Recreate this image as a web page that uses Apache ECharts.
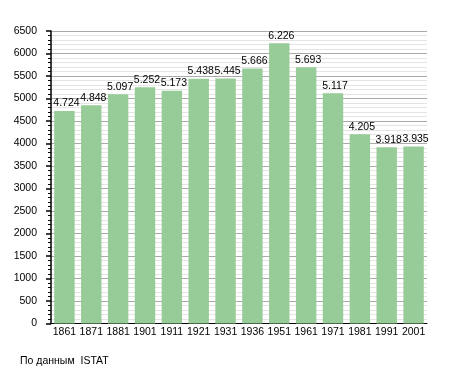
<!DOCTYPE html>
<html><head><meta charset="utf-8">
<script src="https://cdn.jsdelivr.net/npm/echarts@6/dist/echarts.min.js"></script>
<style>html,body{margin:0;padding:0;background:#fff}#c{width:455px;height:373px}</style>
</head><body><div id="c"></div>
<script>
var years = ['1861','1871','1881','1901','1911','1921','1931','1936','1951','1961','1971','1981','1991','2001'];
var population = [4724,4848,5097,5252,5173,5438,5445,5666,6226,5693,5117,4205,3918,3935];
var yTicks = {min:0, max:6500, interval:500};
var footnote = 'По данным  ISTAT';

var chart = echarts.init(document.getElementById('c'), null, {renderer:'canvas'});
var font = 'Liberation Sans, Arial, sans-serif';
var fs = 10.5;
chart.setOption({
  animation:false,
  grid:{left:51, right:28, top:31, bottom:49.5},
  graphic:[{type:'text', left:20, top:356, style:{text:footnote, font:fs+'px '+font, fill:'#000'}}],
  xAxis:{type:'category', data:years,
    axisLine:{lineStyle:{color:'#000', width:1}},
    axisTick:{show:false},
    axisLabel:{color:'#000', fontFamily:font, fontSize:fs, margin:3, interval:0}
  },
  yAxis:{type:'value', min:yTicks.min, max:yTicks.max, interval:yTicks.interval,
    axisLine:{show:true, lineStyle:{color:'#000', width:1.5}},
    axisTick:{show:true, length:5, lineStyle:{color:'#000', width:1.5}},
    minorTick:{show:true, splitNumber:5, length:3, lineStyle:{color:'#000', width:1}},
    splitLine:{show:true, lineStyle:{color:'#aaaaaa', width:1}},
    minorSplitLine:{show:true, lineStyle:{color:'#e4e4e4', width:1}},
    axisLabel:{color:'#000', fontFamily:font, fontSize:fs, margin:14, formatter:function(v){return String(v);}}
  },
  series:[{type:'bar', data:population, barCategoryGap:'24%',
    itemStyle:{color:'#97cb97'},
    label:{show:true, position:'top', distance:2, offset:[2,0], color:'#000', fontFamily:font, fontSize:fs,
      formatter:function(p){var v=p.value; return Math.floor(v/1000)+'.'+String(v%1000).padStart(3,'0');}}
  }]
});
</script></body></html>
